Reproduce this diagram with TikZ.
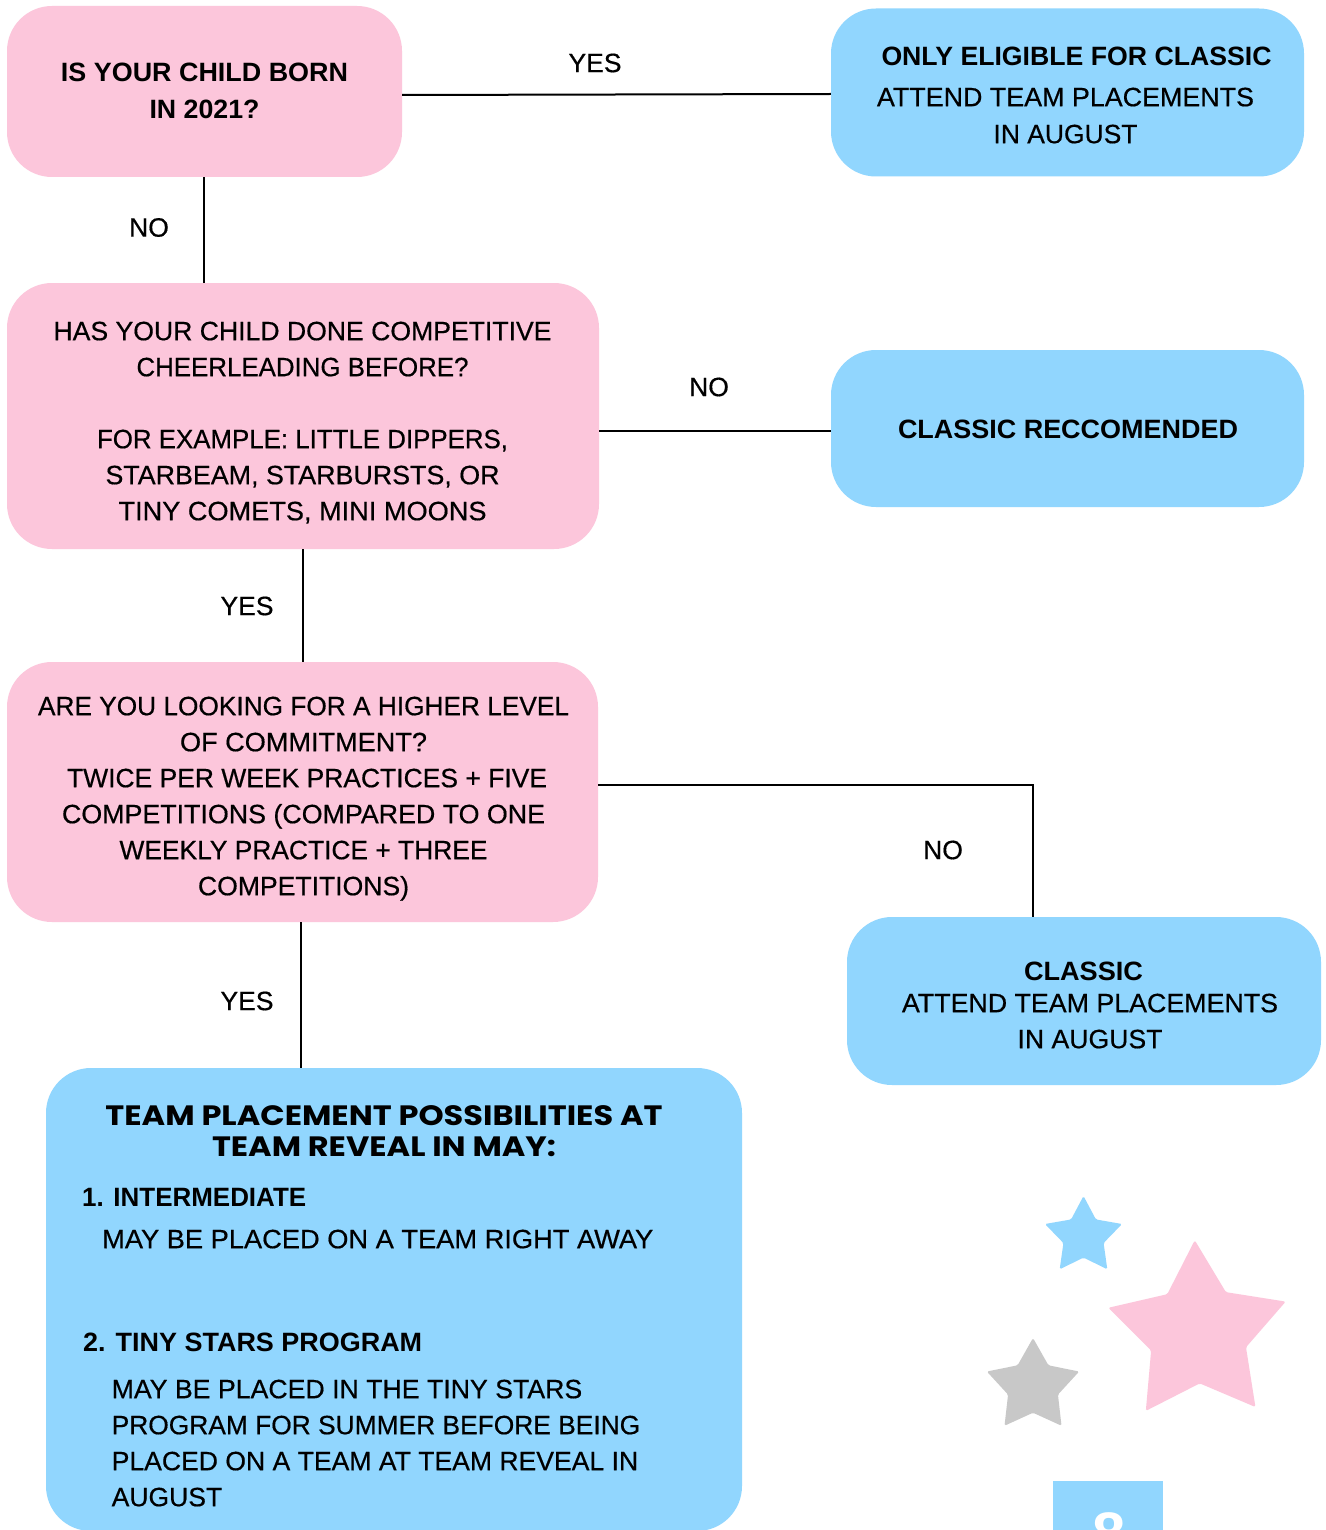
\documentclass[tikz,border=0pt]{standalone}
\usepackage{fontspec}
\setmainfont{Liberation Sans}[UprightFeatures={FakeBold=0.5}]
\newfontfamily\headfont{Poppins}
\usetikzlibrary{shapes.geometric}
\definecolor{pinkbox}{RGB}{252,198,219}
\definecolor{bluebox}{RGB}{145,214,254}
\definecolor{greystar}{RGB}{200,200,200}
\newcommand\fw[2]{\resizebox{#1pt}{\height}{#2}}
\newcommand\bodyfs{\fontsize{26.5}{36}\selectfont}
\tikzset{
  pinkbx/.style={fill=pinkbox, rounded corners=45pt, inner sep=0pt},
  bluebx/.style={fill=bluebox, rounded corners=45pt, inner sep=0pt},
  txt/.style={inner sep=0pt, align=center, anchor=north, font=\bodyfs},
  ltxt/.style={inner sep=0pt, align=left, anchor=north west, font=\bodyfs},
  lbl/.style={inner sep=0pt, font=\bodyfs},
  conn/.style={draw=black, line width=2pt},
  starshape/.style={star, star points=5, inner sep=0pt, rounded corners=1.5pt}
}
\begin{document}
\begin{tikzpicture}[x=1pt,y=-1pt]
\useasboundingbox (0,0) rectangle (1325,1530);
\clip (0,0) rectangle (1325,1530);
\fill[white] (0,0) rectangle (1325,1530);

% boxes
\node[pinkbx, minimum width=395pt, minimum height=171pt] (b1) at (204.5,91.5) {};
\node[bluebx, minimum width=473pt, minimum height=168pt] (bA) at (1067.5,92.5) {};
\node[pinkbx, minimum width=592pt, minimum height=266pt] (b2) at (303,416) {};
\node[bluebx, minimum width=473pt, minimum height=157pt] (bB) at (1067.5,428.5) {};
\node[pinkbx, minimum width=591pt, minimum height=260pt] (b3) at (302.5,792) {};
\node[bluebx, minimum width=474pt, minimum height=168pt] (bC) at (1084,1001) {};
\node[bluebx, minimum width=696pt, minimum height=463pt] (bD) at (394,1299.5) {};

% connectors
\draw[conn] (b1.east |- 0,95) -- (bA.west |- 0,94);
\draw[conn] (b1.south -| 204.3,0) -- (b2.north -| 204.3,0);
\draw[conn] (b2.east |- 0,431) -- (bB.west |- 0,431);
\draw[conn] (b2.south -| 303,0) -- (b3.north -| 303,0);
\draw[conn] (b3.east |- 0,784.5) -| (bC.north -| 1033,0);
\draw[conn] (b3.south -| 301,0) -- (bD.north -| 301,0);

% labels
\node[lbl] (l1) at (595,63) {YES};
\node[lbl] (l2) at (149,227.5) {NO};
\node[lbl] (l3) at (709,387) {NO};
\node[lbl] (l4) at (247,606) {YES};
\node[lbl] (l5) at (943,850) {NO};
\node[lbl] (l6) at (247,1001) {YES};

% box texts
\node[txt, font=\bodyfs\bfseries] (t1) at (204.5,63) {\fw{287}{IS YOUR CHILD BORN}\\[1pt]\fw{110}{IN 2021?}};
\node[txt] (tA) at (1065.5,46.5) {\hspace*{22pt}\fw{390}{\bfseries ONLY ELIGIBLE FOR CLASSIC}\\[5pt]\fw{377}{ATTEND TEAM PLACEMENTS}\\[1pt]\fw{144}{IN AUGUST}};
\node[txt] (tB) at (1068,419.5) {\fw{340}{\bfseries CLASSIC RECCOMENDED}};
\node[txt] (t2) at (302.5,321.5) {\fw{498}{HAS YOUR CHILD DONE COMPETITIVE}\\\fw{332}{CHEERLEADING BEFORE?}\\[36pt]\fw{411}{FOR EXAMPLE: LITTLE DIPPERS,}\\\fw{394}{STARBEAM, STARBURSTS, OR}\\\fw{368}{TINY COMETS, MINI MOONS}};
\node[txt] (t3) at (303.5,696.5) {\fw{531}{ARE YOU LOOKING FOR A HIGHER LEVEL}\\\fw{247}{OF COMMITMENT?}\\\hspace*{7pt}\fw{480}{TWICE PER WEEK PRACTICES + FIVE}\\\fw{483}{COMPETITIONS (COMPARED TO ONE}\\\fw{368}{WEEKLY PRACTICE + THREE}\\\fw{211}{COMPETITIONS)}};
\node[txt] (tC) at (1090,961.5) {\hspace*{-13pt}\fw{119}{\bfseries CLASSIC}\\[-4pt]\fw{376}{ATTEND TEAM PLACEMENTS}\\\fw{145}{IN AUGUST}};

% bottom box texts
\node[txt, font=\headfont\bfseries\fontsize{28}{31}\selectfont] (d1) at (384,1105) {\fw{557}{TEAM PLACEMENT POSSIBILITIES AT}\\\fw{344}{TEAM REVEAL IN MAY:}};
\node[ltxt, font=\bodyfs\bfseries] (d2) at (82,1188) {\fw{224}{1. INTERMEDIATE}};
\node[ltxt] (d3) at (102,1229.5) {\fw{551}{MAY BE PLACED ON A TEAM RIGHT AWAY}};
\node[ltxt, font=\bodyfs\bfseries] (d4) at (83,1332.5) {\fw{339}{2. TINY STARS PROGRAM}};
\node[ltxt] (d5) at (111.5,1379.5) {\fw{470.5}{MAY BE PLACED IN THE TINY STARS}\\\fw{528.5}{PROGRAM FOR SUMMER BEFORE BEING}\\\fw{526.5}{PLACED ON A TEAM AT TEAM REVEAL IN}\\\fw{110.5}{AUGUST}};

% stars
\node[starshape, star point ratio=1.92, minimum size=81pt, fill=bluebox] (s1) at (1083.5,1236.5) {};
\node[starshape, star point ratio=1.87, minimum size=186.6pt, fill=pinkbox, rotate=2] (s2) at (1198,1333.5) {};
\node[starshape, star point ratio=1.85, minimum size=97pt, fill=greystar] (s3) at (1033,1386.5) {};

% page tab
\node[fill=bluebox, minimum width=110pt, minimum height=60pt, inner sep=0pt, anchor=north west] (pg) at (1053,1481) {};
\node[inner sep=0pt, anchor=north, text=white, font=\bfseries\fontsize{60}{60}\selectfont] (pgn) at (1109,1512) {8};
\end{tikzpicture}
\end{document}
